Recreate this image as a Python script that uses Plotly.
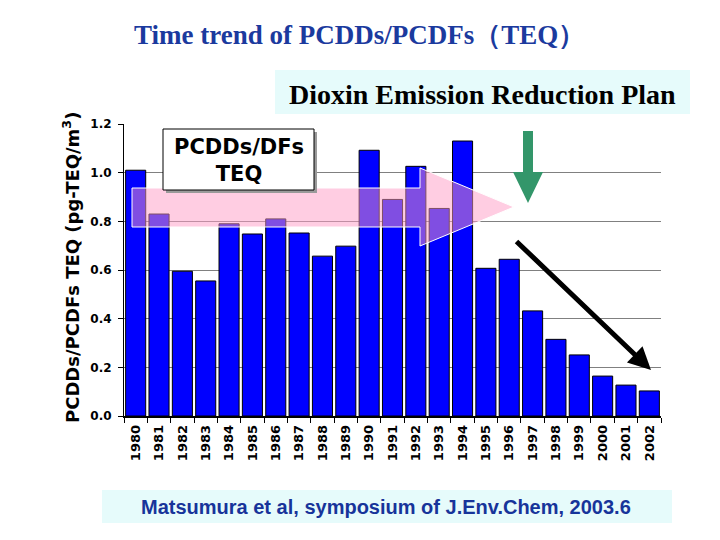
import plotly.graph_objects as go

years = [str(y) for y in range(1980, 2003)]
teq = [1.01, 0.83, 0.595, 0.555, 0.79, 0.748, 0.81, 0.752, 0.657, 0.698, 1.092,
       0.89, 1.026, 0.853, 1.13, 0.607, 0.644, 0.432, 0.315, 0.251, 0.164, 0.127, 0.103]
y_ticks = [0.0, 0.2, 0.4, 0.6, 0.8, 1.0, 1.2]
y_tick_text = ["0.0", "0.2", "0.4", "0.6", "0.8", "1.0", "1.2"]

title_text = "Time trend of PCDDs/PCDFs（TEQ）"
plan_text = "Dioxin Emission Reduction Plan"
box_text = "PCDDs/DFs<br>TEQ"
ytitle_text = "PCDDs/PCDFs TEQ (pg-TEQ/m<sup>3</sup>)"
source_text = "Matsumura et al, symposium of J.Env.Chem, 2003.6"

W, H = 720, 540
L, R, T, B = 124, 59, 124, 124
PW, PH = W - L - R, H - T - B


def px(x):
    return (x - L) / PW


def py(y):
    return (H - B - y) / PH


fig = go.Figure()
fig.add_trace(go.Bar(
    x=years, y=teq,
    marker=dict(color="#0000ff", line=dict(color="black", width=1)),
    hoverinfo="x+y",
))

shapes = []
shapes.append(dict(type="rect", xref="paper", yref="paper", x0=px(275), x1=px(690), y0=py(114), y1=py(70),
                   fillcolor="#e6fbfb", line=dict(width=0), layer="below"))
shapes.append(dict(type="rect", xref="paper", yref="paper", x0=px(102), x1=px(672), y0=py(523), y1=py(490),
                   fillcolor="#e6fbfb", line=dict(width=0), layer="below"))
pts = [(132, 188), (420, 188), (420, 168), (514, 207), (420, 246), (420, 227), (132, 227)]
path = "M " + " L ".join(f"{px(a):.5f},{py(b):.5f}" for a, b in pts) + " Z"
shapes.append(dict(type="path", xref="paper", yref="paper", path=path,
                   fillcolor="rgba(255,155,197,0.5)", line=dict(color="white", width=1), layer="above"))
shapes.append(dict(type="rect", xref="paper", yref="paper", x0=px(166), x1=px(317), y0=py(193), y1=py(132),
                   fillcolor="#9a9a9a", line=dict(width=0), layer="above"))
shapes.append(dict(type="rect", xref="paper", yref="paper", x0=px(163), x1=px(314), y0=py(190), y1=py(129),
                   fillcolor="white", line=dict(color="black", width=1), layer="above"))
gpts = [(523, 131), (533, 131), (533, 172), (543, 172), (528, 203), (513, 172), (523, 172)]
gpath = "M " + " L ".join(f"{px(a):.5f},{py(b):.5f}" for a, b in gpts) + " Z"
shapes.append(dict(type="path", xref="paper", yref="paper", path=gpath,
                   fillcolor="#33966a", line=dict(width=0), layer="above"))

annotations = [
    dict(text=f"<b>{title_text}</b>", xref="paper", yref="paper", x=px(359), y=py(35),
         showarrow=False, font=dict(family="Liberation Serif", size=27, color="#1b3a9e"),
         xanchor="center", yanchor="middle"),
    dict(text=f"<b>{plan_text}</b>", xref="paper", yref="paper", x=px(482), y=py(95),
         showarrow=False, font=dict(family="Liberation Serif", size=28, color="black"),
         xanchor="center", yanchor="middle"),
    dict(text=f"<b>{source_text}</b>", xref="paper", yref="paper", x=px(386), y=py(507),
         showarrow=False, font=dict(family="Liberation Sans", size=20, color="#17349a"),
         xanchor="center", yanchor="middle"),
    dict(text=f"<b>{box_text}</b>", xref="paper", yref="paper", x=px(238.5), y=py(160),
         showarrow=False, font=dict(family="DejaVu Sans", size=21, color="black"),
         xanchor="center", yanchor="middle"),
    dict(text=f"<b>{ytitle_text}</b>", xref="paper", yref="paper", x=px(71), y=py(268),
         showarrow=False, textangle=-90, font=dict(family="DejaVu Sans", size=18, color="black"),
         xanchor="center", yanchor="middle"),
    dict(text="", xref="paper", yref="paper", x=px(651), y=py(370), ax=-136, ay=-130,
         showarrow=True, arrowhead=2, arrowsize=0.9, arrowwidth=5, arrowcolor="black"),
]

fig.update_layout(
    width=W, height=H,
    margin=dict(l=L, r=R, t=T, b=B),
    paper_bgcolor="white", plot_bgcolor="white",
    showlegend=False, bargap=0.14,
    shapes=shapes, annotations=annotations,
    xaxis=dict(type="category", tickangle=-90, tickson="boundaries", ticks="outside", ticklen=5,
               tickcolor="black", showline=True, linecolor="black", linewidth=1.5,
               ticklabelstandoff=2,
               tickfont=dict(family="DejaVu Sans", size=13, color="black", weight="bold"), showgrid=False),
    yaxis=dict(range=[0, 1.2], tickvals=y_ticks, ticktext=y_tick_text, ticks="outside", ticklen=5,
               tickcolor="black", showline=True, linecolor="black", linewidth=1,
               ticklabelstandoff=4,
               showgrid=True, gridcolor="#808080", gridwidth=1, zeroline=False,
               tickfont=dict(family="DejaVu Sans", size=12, color="black", weight="bold")),
)

fig.write_html("out.html")
